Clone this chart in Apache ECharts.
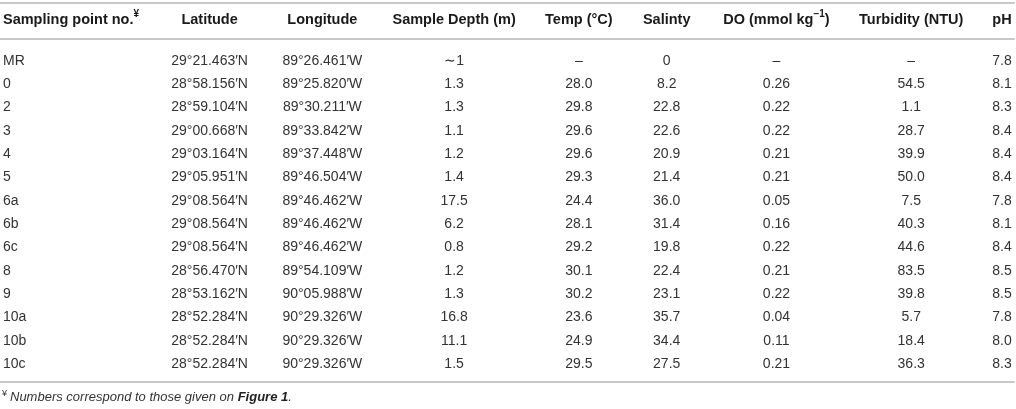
<!DOCTYPE html>
<html>
<head>
<meta charset="utf-8">
<script src="https://cdn.jsdelivr.net/npm/echarts@6/dist/echarts.min.js"></script>
<style>
  html, body { margin: 0; padding: 0; background: #fff; }
  #main { width: 1016px; height: 409px; }
</style>
</head>
<body>
<div id="main"></div>
<script>
// table contents, one array per column
var samplePoints = ['MR', '0', '2', '3', '4', '5', '6a', '6b', '6c', '8', '9', '10a', '10b', '10c'];
var latitude = ['29°21.463′N', '28°58.156′N', '28°59.104′N', '29°00.668′N', '29°03.164′N', '29°05.951′N', '29°08.564′N',
    '29°08.564′N', '29°08.564′N', '28°56.470′N', '28°53.162′N', '28°52.284′N', '28°52.284′N', '28°52.284′N'];
var longitude = ['89°26.461′W', '89°25.820′W', '89°30.211′W', '89°33.842′W', '89°37.448′W', '89°46.504′W', '89°46.462′W',
    '89°46.462′W', '89°46.462′W', '89°54.109′W', '90°05.988′W', '90°29.326′W', '90°29.326′W', '90°29.326′W'];
var depth = ['∼1', '1.3', '1.3', '1.1', '1.2', '1.4', '17.5', '6.2', '0.8', '1.2', '1.3', '16.8', '11.1', '1.5'];
var temp = ['–', '28.0', '29.8', '29.6', '29.6', '29.3', '24.4', '28.1', '29.2', '30.1', '30.2', '23.6', '24.9', '29.5'];
var salinity = ['0', '8.2', '22.8', '22.6', '20.9', '21.4', '36.0', '31.4', '19.8', '22.4', '23.1', '35.7', '34.4', '27.5'];
var dissolvedOxygen = ['–', '0.26', '0.22', '0.22', '0.21', '0.21', '0.05', '0.16', '0.22', '0.21', '0.22', '0.04', '0.11', '0.21'];
var turbidity = ['–', '54.5', '1.1', '28.7', '39.9', '50.0', '7.5', '40.3', '44.6', '83.5', '39.8', '5.7', '18.4', '36.3'];
var pH = ['7.8', '8.1', '8.3', '8.4', '8.4', '8.4', '7.8', '8.1', '8.4', '8.5', '8.5', '7.8', '8.0', '8.3'];

// header labels ({h|..} = normal part, {sup|..} = superscript)
var headers = ['{h|Sampling point no.}{sup|¥}', 'Latitude', 'Longitude', 'Sample Depth (m)', 'Temp (°C)',
    'Salinty', '{h|DO (mmol kg}{sup|−1}{h|)}', 'Turbidity (NTU)', 'pH'];
var footnote = '{sup|¥}{it|Numbers correspond to those given on }{bf|Figure 1}{it|.}';

var columns = [samplePoints, latitude, longitude, depth, temp, salinity, dissolvedOxygen, turbidity, pH];

// layout: column anchor on a 0..1016 x axis
var colX = [3, 210, 323, 455, 580, 668, 778, 913, 1004];
var FONT = '"Liberation Sans", Arial, Helvetica, sans-serif';
var LINE = '#c8c8c8';

var headerData = [];
for (var c = 0; c < headers.length; c++) {
    headerData.push([c, 0]);
}
var bodyData = [];
for (var r = 0; r < samplePoints.length; r++) {
    for (var k = 0; k < columns.length; k++) {
        bodyData.push([k, r]);
    }
}

var myChart = echarts.init(document.getElementById('main'));

function hiddenX(gridIndex, position, offset) {
    return {
        type: 'value', gridIndex: gridIndex, min: 0, max: 1016, position: position, offset: offset || 0,
        axisLine: { show: true, lineStyle: { color: LINE, width: 2 } },
        axisTick: { show: false }, axisLabel: { show: false }, splitLine: { show: false }
    };
}

var option = {
    animation: false,
    backgroundColor: '#fff',
    title: {
        left: 2,
        top: 389,
        padding: 0,
        text: footnote,
        textStyle: {
            fontFamily: FONT,
            fontWeight: 'normal',
            rich: {
                sup: { fontSize: 9, color: '#333', fontFamily: FONT, fontWeight: 'normal', verticalAlign: 'top', lineHeight: 10, padding: [0, 3, 0, 0] },
                it: { fontSize: 13, fontStyle: 'italic', fontWeight: 'normal', color: '#333', fontFamily: FONT, lineHeight: 17 },
                bf: { fontSize: 13, fontStyle: 'italic', fontWeight: 'bold', color: '#222', fontFamily: FONT, lineHeight: 17 }
            }
        }
    },
    grid: [
        { left: 0, right: 2, top: 3, height: 36 },
        { left: 0, right: 2, top: 49.35, height: 326.3 }
    ],
    xAxis: [
        hiddenX(0, 'top'),
        hiddenX(0, 'bottom'),
        hiddenX(1, 'bottom', 6)
    ],
    yAxis: [
        { type: 'category', gridIndex: 0, data: ['header'], show: false },
        { type: 'category', gridIndex: 1, data: samplePoints, inverse: true, show: false }
    ],
    series: [
        {
            type: 'custom',
            xAxisIndex: 0,
            yAxisIndex: 0,
            data: headerData,
            renderItem: function (params, api) {
                var c = api.value(0);
                var pt = api.coord([colX[c], 0]);
                return {
                    type: 'text',
                    x: pt[0],
                    y: pt[1] - 1,
                    style: {
                        text: headers[c],
                        fill: '#1a1a1a',
                        fontFamily: FONT,
                        fontSize: 14.5,
                        fontWeight: 'bold',
                        align: c === 0 ? 'left' : 'center',
                        verticalAlign: 'middle',
                        rich: {
                            h: { fontSize: 14.5, fontWeight: 'bold', fill: '#1a1a1a', fontFamily: FONT, lineHeight: 22 },
                            sup: { fontSize: 10, fontWeight: 'bold', fill: '#1a1a1a', fontFamily: FONT, verticalAlign: 'top', lineHeight: 11 }
                        }
                    }
                };
            }
        },
        {
            type: 'custom',
            xAxisIndex: 2,
            yAxisIndex: 1,
            data: bodyData,
            renderItem: function (params, api) {
                var c = api.value(0);
                var r = api.value(1);
                var pt = api.coord([colX[c], r]);
                return {
                    type: 'text',
                    x: pt[0],
                    y: pt[1],
                    style: {
                        text: columns[c][r],
                        fill: '#333',
                        fontFamily: FONT,
                        fontSize: 14,
                        align: c === 0 ? 'left' : 'center',
                        verticalAlign: 'middle'
                    }
                };
            }
        }
    ]
};

myChart.setOption(option);
</script>
</body>
</html>
